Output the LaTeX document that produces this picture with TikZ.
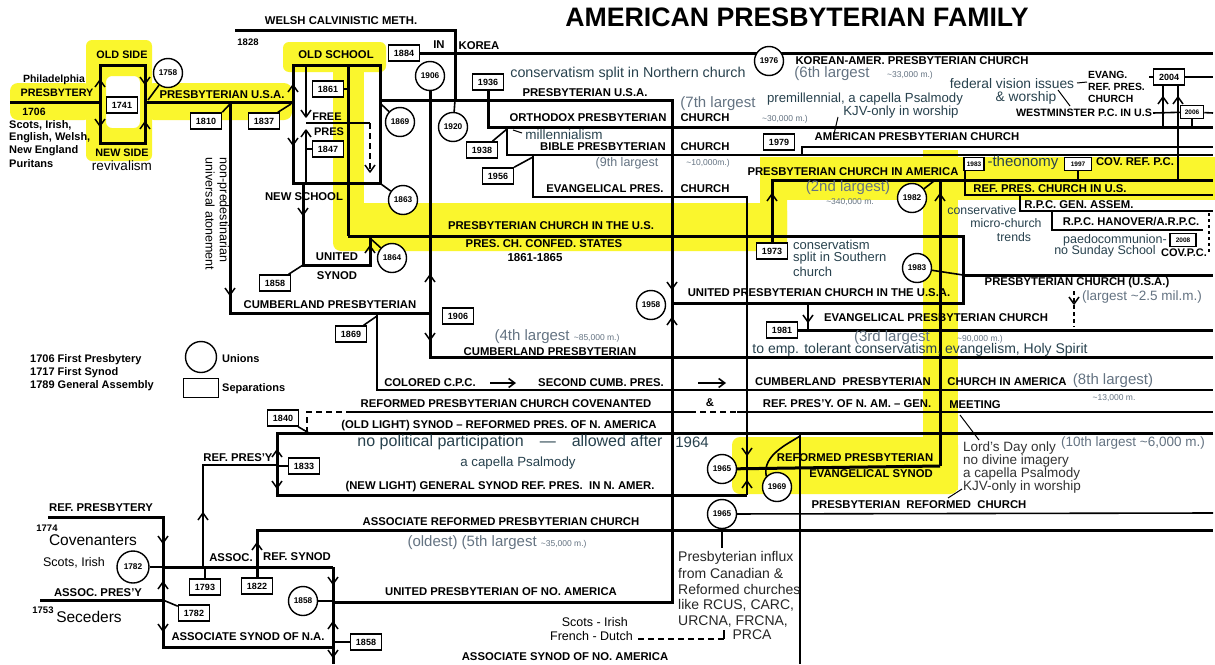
\documentclass[tikz,border=0pt]{standalone}
\usepackage{fontspec}
\setmainfont{Liberation Sans}
\usetikzlibrary{arrows.meta}
\definecolor{hl}{RGB}{250,246,45}
\definecolor{annot}{RGB}{40,66,78}
\definecolor{memc}{RGB}{100,115,130}
\pgfdeclarelayer{hlay}
\pgfdeclarelayer{llay}
\pgfsetlayers{hlay,llay,main}
\newcommand{\tld}{\textasciitilde}
\newcommand{\fs}[1]{\fontsize{#1}{#1}\selectfont}
\begin{document}
\begin{tikzpicture}[x=1pt,y=-1pt,
 tk/.style={line width=3pt},
 tn/.style={line width=1.6pt},
 th/.style={line width=1pt},
 lab/.style={font={\bfseries\fs{11.3}}, inner sep=0pt},
 slab/.style={font={\bfseries\fs{9.5}}, inner sep=0pt},
 ann/.style={text=annot, font={\fs{14}}, inner sep=0pt},
 gbig/.style={text=memc, font={\fs{15}}, inner sep=0pt},
 gsml/.style={text=memc, font={\fs{8.5}}, inner sep=0pt},
 rtx/.style={font={\fs{12.5}}, inner sep=0pt},
 yb/.style={draw, line width=1.5pt, fill=white, inner sep=1pt, minimum width=31pt, minimum height=16pt, font={\bfseries\fs{9}}},
 ybs/.style={yb, minimum width=20pt, minimum height=13pt, font={\bfseries\fs{6.5}}},
 yc/.style={draw, circle, line width=1.4pt, fill=white, inner sep=0pt, minimum size=29pt, font={\bfseries\fs{8.3}}},
 chevu/.pic={\draw[line width=1.5pt, line join=round] (-5,7) -- (0,0) -- (5,7);},
 chevd/.pic={\draw[line width=1.5pt, line join=round] (-5,-7) -- (0,0) -- (5,-7);},
 dsh/.style={dash pattern=on 6pt off 4pt},
]
\useasboundingbox (0,0) rectangle (1215,664);
% ---------- highlights ----------
\begin{pgfonlayer}{hlay}
\fill[white] (0,0) rectangle (1215,664);
\fill[hl, rounded corners=8pt] (10,83) rectangle (92,120);
\fill[hl, rounded corners=8pt] (146,83) rectangle (292,120);
\fill[hl, rounded corners=6pt, even odd rule] (86,40) rectangle (152,161) (106,76) rectangle (140,128);
\fill[hl, rounded corners=6pt] (283,42) rectangle (386,72);
\fill[hl] (333,60) rectangle (364,240);
\fill[hl, rounded corners=8pt] (333,203) rectangle (787,251);
\fill[hl, rounded corners=6pt] (760,157) rectangle (787,240);
\fill[hl] (760,157) rectangle (1215,200);
\fill[hl] (923,150) rectangle (958,490);
\fill[hl, rounded corners=8pt] (732,437) rectangle (958,494);
\end{pgfonlayer}
% ---------- boxes (separations) ----------
\node[yb] (b1741) at (122,105) {1741};
\node[yb] (b1810) at (206,121) {1810};
\node[yb] (b1837) at (264,121) {1837};
\node[yb] (b1884) at (404,53) {1884};
\node[yb] (b1861) at (328,89) {1861};
\node[yb] (b1847) at (328,149) {1847};
\node[yb] (b1858a) at (275,283) {1858};
\node[yb] (b1936) at (488,82) {1936};
\node[yb] (b1938) at (482,150) {1938};
\node[yb] (b1956) at (498,176) {1956};
\node[yb] (b1979) at (779,142) {1979};
\node[yb] (b1973) at (772,251) {1973};
\node[ybs] (b1983) at (974,164) {1983};
\node[ybs, minimum width=27pt] (b1997) at (1078,164) {1997};
\node[yb] (b2004) at (1169,77) {2004};
\node[ybs, minimum width=23pt] (b2006) at (1192,112) {2006};
\node[ybs, minimum width=26pt] (b2008) at (1183,240) {2008};
\node[yb] (b1981) at (782,330) {1981};
\node[yb] (b1906) at (458,316) {1906};
\node[yb] (b1869) at (351,334) {1869};
\node[yb] (b1840) at (283,418) {1840};
\node[yb] (b1833) at (304,466) {1833};
\node[yb] (b1793) at (205,587) {1793};
\node[yb] (b1822) at (257,586) {1822};
\node[yb] (b1782) at (194,613) {1782};
\node[yb] (b1858b) at (366,642) {1858};
\node[yb, minimum width=35pt, minimum height=19pt] (lgb) at (201,388) {};
% ---------- circles (unions) ----------
\node[yc] (c1758) at (168,73) {1758};
\node[yc] (c1906) at (430,76) {1906};
\node[yc] (c1920) at (453,127) {1920};
\node[yc] (c1869) at (400,122) {1869};
\node[yc] (c1863) at (403,200) {1863};
\node[yc] (c1864) at (392,258) {1864};
\node[yc] (c1976) at (769,61) {1976};
\node[yc] (c1958) at (651,305) {1958};
\node[yc] (c1982) at (912,198) {1982};
\node[yc] (c1983) at (917,268) {1983};
\node[yc] (c1965a) at (722,469) {1965};
\node[yc] (c1969) at (777,487) {1969};
\node[yc] (c1965b) at (722,514) {1965};
\node[yc, minimum size=32pt] (c1782) at (133,567) {1782};
\node[yc] (c1858) at (303,601) {1858};
\node[yc, minimum size=31pt] (lgc) at (201,357) {};
% ---------- lines ----------
\begin{pgfonlayer}{llay}
% colonial
\draw[tk] (10,102) -- (100,102);
\draw[tk] (100,65) rectangle (145,143);
\draw[tk] (145,102) -- (293,102);
\draw[tn] (c1758) -- (148,100);
\pic at (100,80) {chevu}; \pic at (100,126) {chevd};
\pic at (145,84) {chevd}; \pic at (145,122) {chevu};
\draw[tn] (b1810.north east) -- (230,104);
\draw[tn] (b1837) -- (291,104);
% old school / new school
\draw[tk] (293,65) rectangle (380,183);
\pic at (293,85) {chevu}; \pic at (293,145) {chevd};
\draw[tk] (348,65) -- (348,236);
\draw[tn] (b1861) -- (348,89);
\draw[tn] (306,65) -- (306,117); \pic at (306,117) {chevd};
\draw[tn] (306,183) -- (306,130); \pic at (306,130) {chevu};
\draw[tn] (b1847) -- (306,149);
\draw[tn] (306,123) -- (370,123);
\draw[tn, dsh] (370,123) -- (370,172); \pic at (370,172) {chevd};
\draw[tn] (c1869) -- (381,104);
\draw[tn] (c1863) -- (381,184);
\draw[tk] (303,183) -- (303,265) -- (370,265) -- (370,236);
\pic at (303,215) {chevd}; \pic at (370,246) {chevu};
\draw[tn] (b1858a) -- (303,265);
\draw[tn] (c1864) -- (371,239);
% welsh, korea
\draw[tk] (235,30) -- (455,30) -- (455,100);
\draw[tn] (455,100) -- (c1920);
\draw[tk] (b1884) -- (1213,53);
% PCUSA main
\draw[tk] (380,100) -- (672,100) -- (672,602) -- (333,602);
\pic at (672,289) {chevd}; \pic at (672,318) {chevu};
% cumberland
\draw[tk] (230,102) -- (230,313) -- (430,313);
\pic at (230,295) {chevd};
\draw[tk] (c1906) -- (430,357) -- (1213,357);
\pic at (430,275) {chevu}; \pic at (430,340) {chevd};
\draw[tn] (b1869) -- (377,316);
\draw[tn] (377,313) -- (377,390) -- (1213,390);
\draw[tn, -{Straight Barb[length=6pt,width=9pt]}] (490,383) -- (516,383);
\draw[tn, -{Straight Barb[length=6pt,width=9pt]}] (698,383) -- (726,383);
% OPC, BPC, EPC
\draw[tk] (b1936) -- (488,127) -- (1213,127);
\draw[th] (513,130) -- (522,133);
\draw[tn] (b1938) -- (507,129);
\draw[tn] (507,127) -- (507,155) -- (1213,155);
\draw[tn] (b1956) -- (533,157);
\draw[tn] (533,155) -- (533,197) -- (747,197) -- (747,495);
\pic at (747,455) {chevd}; \pic at (747,481) {chevu};
\draw[tn] (802,155) -- (802,147) -- (1213,147);
\draw[th] (838,117) -- (834,134);
% top right
\draw[th] (1077,83) -- (1087,82);
\draw[th] (1058,90) -- (1070,106);
\draw[tn] (1149,77) -- (b2004);
\draw[tn] (b2004) -- (1213,77);
\draw[tn] (1163,127) -- (1163,85); \pic at (1163,97) {chevu};
\draw[tn] (1178,180) -- (1178,85); \pic at (1178,97) {chevu};
\draw[tn] (1153,113) -- (b2006);
\draw[tn] (b2006) -- (1213,113);
\draw[tn] (b2006) -- (1192,127);
% PCUS, PCA
\draw[tk] (348,236) -- (963,236) -- (963,303) -- (672,303);
\draw[tk] (963,275) -- (1213,275);
\draw[tn] (c1983) -- (963,275);
\draw[tk] (b1973) -- (772,180) -- (1213,180);
\pic at (772,194) {chevu};
\draw[tk] (940,466) -- (940,180);
\pic at (940,194) {chevu};
\draw[tn] (c1982) -- (934,181);
\draw[tn] (965,171) -- (965,195) -- (1213,195);
\draw[tn] (b1997) -- (1078,180);
\draw[tn] (1020,195) -- (1020,211) -- (1213,211);
\draw[tn] (1052,211) -- (1052,230) -- (1203,230);
\draw[tn, dash pattern=on 3pt off 3pt] (1209,213) -- (1209,252);
% UPCUSA / EPC 1981
\draw[tn] (808,303) -- (808,330); \pic at (808,322) {chevd};
\draw[tk] (b1981) -- (1213,330);
\draw[tn, dash pattern=on 4pt off 3pt] (1074,291) -- (1074,327); \pic at (1074,304) {chevd};
% reformed presbyterian
\draw[tn, dsh] (307,433) -- (307,412) -- (350,412);
\draw[tn] (350,412) -- (690,412);
\draw[tn, dsh] (690,412) -- (737,412);
\draw[tn] (737,412) -- (1213,412);
\draw[tn] (b1840) -- (309,433);
\draw[tk] (1213,433) -- (277,433) -- (277,495) -- (747,495);
\pic at (277,450) {chevu}; \pic at (277,488) {chevd};
\draw[tn] (b1833) -- (277,466);
\draw[tn] (203,567) -- (203,465) -- (277,465);
\pic at (203,513) {chevu};
\draw[tk] (c1965a) -- (940,466);
\draw[tn] (c1969.north west) .. controls (762,455) and (788,444) .. (800,436);
\draw[tn] (800,433) -- (800,664);
\draw[tn] (c1965b) -- (1213,513);
\draw[tn] (c1965b) -- (722,548);
\draw[th] (960,415) -- (979,440);
\draw[th] (962,489) -- (948,498);
% associate reformed
\draw[tk] (b1822) -- (257,530) -- (1213,530);
\pic at (257,543) {chevu};
\draw[tn] (c1782) -- (163,567);
\draw[tk] (163,567) -- (333,567);
\draw[tn] (b1793) -- (205,567);
\draw[tk] (48,517) -- (163,517) -- (163,647) -- (333,647);
\pic at (163,543) {chevd}; \pic at (163,582) {chevu}; \pic at (163,631) {chevd};
\draw[tk] (40,600) -- (163,600);
\draw[tn] (b1782) -- (163,600);
\draw[tk] (333,567) -- (333,664);
\pic at (333,584) {chevd}; \pic at (333,622) {chevu}; \pic at (333,657) {chevd};
\draw[tn] (c1858) -- (333,601);
\draw[tn] (b1858b) -- (333,642);
\draw[tn, dsh] (638,639) -- (724,639);
\draw[tn] (724,639) -- (724,630);
\end{pgfonlayer}
% ---------- texts ----------
\node[font={\bfseries\fs{26.7}}, inner sep=0pt] (title) at (797,17) {AMERICAN PRESBYTERIAN FAMILY};
\node[lab] (tWelsh) at (341,21) {WELSH CALVINISTIC METH.};
\node[slab] (t1828) at (248,42) {1828};
\node[lab] (tIN) at (439,45) {IN};
\node[lab] (tKorea) at (479,46) {KOREA};
\node[font={\bfseries\fs{10.5}}, inner sep=0pt] (tPhil) at (54,80) {Philadelphia};
\node[lab, font={\bfseries\fs{10.8}}] (tPby) at (57,93) {PRESBYTERY};
\node[slab, font={\bfseries\fs{10.5}}] (t1706) at (34,112) {1706};
\node[font={\bfseries\fs{11}}, inner sep=0pt, anchor=west] (tSc1) at (9,125) {Scots, Irish,};
\node[font={\bfseries\fs{11}}, inner sep=0pt, anchor=west] (tSc2) at (9,138) {English, Welsh,};
\node[font={\bfseries\fs{11}}, inner sep=0pt, anchor=west] (tSc3) at (9,151) {New England};
\node[font={\bfseries\fs{11}}, inner sep=0pt, anchor=west] (tSc4) at (9,164) {Puritans};
\node[lab, font={\bfseries\fs{10.8}}] (tOS) at (122,55) {OLD SIDE};
\node[lab, font={\bfseries\fs{10.8}}] (tNS) at (122,153) {NEW SIDE};
\node[rtx, font={\fs{13.5}}] (trev) at (122,166) {revivalism};
\node[lab] (tPUSA1) at (222,95) {PRESBYTERIAN U.S.A.};
\node[rtx, rotate=-90] (trot1) at (223,210) {non-predestinarian};
\node[rtx, rotate=-90] (trot2) at (210,214) {universal atonement};
\node[lab] (tOSc) at (336,55) {OLD SCHOOL};
\node[slab, font={\bfseries\fs{11}}] (tFree) at (327,117) {FREE};
\node[slab, font={\bfseries\fs{11}}] (tPres) at (329,132) {PRES};
\node[lab] (tNSc) at (304,197) {NEW SCHOOL};
\node[lab] (tUnited) at (337,257) {UNITED};
\node[lab] (tSynod) at (337,276) {SYNOD};
\node[lab] (tCumb1) at (330,305) {CUMBERLAND PRESBYTERIAN};
\node[lab] (tPUSA2) at (585,93) {PRESBYTERIAN U.S.A.};
\node[ann, font={\fs{14.3}}] (tConsN) at (628,74) {conservatism split in Northern church};
\node[lab] (tOPC1) at (588,118) {ORTHODOX PRESBYTERIAN};
\node[lab] (tOPC2) at (705,118) {CHURCH};
\node[gbig] (t7a) at (718,104) {(7th largest};
\node[gsml] (t7b) at (785,119) {\tld30,000 m.)};
\node[ann, font={\fs{13.5}}] (tMill) at (564,135) {millennialism};
\node[lab] (tBPC1) at (603,147) {BIBLE PRESBYTERIAN};
\node[lab] (tBPC2) at (705,147) {CHURCH};
\node[gbig, font={\fs{12.5}}] (t9a) at (627,163) {(9th largest};
\node[gsml] (t9b) at (708,163) {\tld10,000m.)};
\node[lab] (tEPC1) at (605,189) {EVANGELICAL PRES.};
\node[lab] (tEPC2) at (705,189) {CHURCH};
\node[lab] (tKA) at (912,61) {KOREAN-AMER. PRESBYTERIAN CHURCH};
\node[gbig] (t6a) at (832,74) {(6th largest};
\node[gsml] (t6b) at (910,75) {\tld33,000 m.)};
\node[ann, font={\fs{13.2}}] (tPremil) at (865,99) {premillennial, a capella Psalmody};
\node[ann, font={\fs{13.2}}] (tKJV1) at (901,112) {KJV-only in worship};
\node[lab] (tAPC) at (917,137) {AMERICAN PRESBYTERIAN CHURCH};
\node[ann, font={\fs{13.8}}] (tFed) at (1012,84) {federal vision issues};
\node[ann, font={\fs{13.8}}] (tWor) at (1026,98) {\& worship};
\node[slab, font={\bfseries\fs{10.4}}, anchor=west] (tER1) at (1088,75) {EVANG.};
\node[slab, font={\bfseries\fs{10.4}}, anchor=west] (tER2) at (1088,87) {REF. PRES.};
\node[slab, font={\bfseries\fs{10.4}}, anchor=west] (tER3) at (1088,99) {CHURCH};
\node[lab, font={\bfseries\fs{10.7}}] (tWPC) at (1084,113) {WESTMINSTER P.C. IN U.S};
\node[lab] (tPCA) at (853,172) {PRESBYTERIAN CHURCH IN AMERICA};
\node[gbig] (t2a) at (848,188) {(2nd largest)};
\node[gsml] (t2b) at (850,202) {\tld340,000 m.};
\node[ann, font={\fs{15}}] (tTheo) at (1023,163) {-theonomy};
\node[lab] (tCRPC) at (1135,162) {COV. REF. P.C.};
\node[lab] (tRPCUS) at (1050,189) {REF. PRES. CHURCH IN U.S.};
\node[lab] (tGA) at (1079,205) {R.P.C. GEN. ASSEM.};
\node[lab, font={\bfseries\fs{11.2}}] (tHan) at (1131,222) {R.P.C. HANOVER/A.R.P.C.};
\node[ann, font={\fs{12.3}}] (tCv1) at (982,210) {conservative};
\node[ann, font={\fs{12.3}}] (tCv2) at (1006,223) {micro-church};
\node[ann, font={\fs{12.3}}] (tCv3) at (1014,237) {trends};
\node[ann, font={\fs{12.5}}] (tPaedo) at (1115,240) {paedocommunion-};
\node[ann, font={\fs{12.5}}] (tNoSS) at (1105,251) {no Sunday School};
\node[slab, font={\bfseries\fs{11}}] (tCovPC) at (1184,253) {COV.P.C.};
\node[lab] (tPCUS) at (551,226) {PRESBYTERIAN CHURCH IN THE U.S.};
\node[lab] (tCSA) at (544,244) {PRES. CH. CONFED. STATES};
\node[slab, font={\bfseries\fs{11.5}}] (t1861) at (535,258) {1861-1865};
\node[ann, font={\fs{13}}, anchor=west] (tCS1) at (793,245) {conservatism};
\node[ann, font={\fs{13}}, anchor=west] (tCS2) at (793,258) {split in Southern};
\node[ann, font={\fs{13}}, anchor=west] (tCS3) at (793,272) {church};
\node[lab] (tUPC) at (819,293) {UNITED PRESBYTERIAN CHURCH IN THE U.S.A.};
\node[lab] (tPCUSA) at (1077,283) {PRESBYTERIAN CHURCH (U.S.A.)};
\node[gbig, font={\fs{13.5}}] (tLarg) at (1142,297) {(largest {\fs{9}}\tld2.5 mil.m.)};
\node[lab] (tEPCh) at (936,318) {EVANGELICAL PRESBYTERIAN CHURCH};
\node[gbig] (t3a) at (892,338) {(3rd largest};
\node[gsml] (t3b) at (980,339) {\tld90,000 m.)};
\node[ann] (tEmp) at (920,350) {to emp. tolerant conservatism, evangelism, Holy Spirit};
\node[gbig] (t4) at (557,337) {(4th largest {\fs{8.5}\tld85,000 m.)}};
\node[lab] (tCumb2) at (550,352) {CUMBERLAND PRESBYTERIAN};
\node[lab] (tCol) at (430,383) {COLORED C.P.C.};
\node[lab] (tSec2) at (601,383) {SECOND CUMB. PRES.};
\node[lab] (tCPCA1) at (843,382) {CUMBERLAND\ \ PRESBYTERIAN};
\node[lab] (tCPCA2) at (1007,382) {CHURCH IN AMERICA};
\node[gbig] (t8a) at (1113,381) {(8th largest)};
\node[gsml] (t8b) at (1114,398) {\tld13,000 m.};
\node[lab] (tRPCC) at (506,404) {REFORMED PRESBYTERIAN CHURCH COVENANTED};
\node[lab] (tAmp) at (710,403) {\&};
\node[lab] (tRPNA) at (847,404) {REF. PRES'Y. OF N. AM. – GEN.};
\node[lab] (tMeet) at (975,405) {MEETING};
\node[lab] (tOL) at (499,426) {(OLD LIGHT) SYNOD – REFORMED PRES. OF N. AMERICA};
\node[ann, font={\fs{16}}] (tNoPol) at (510,442) {no political participation\quad—\quad allowed after};
\node[ann, font={\fs{15}}] (t1964) at (692,442) {1964};
\node[ann, font={\fs{13.3}}] (tAcap) at (518,463) {a capella Psalmody};
\node[lab] (tNL) at (500,487) {(NEW LIGHT) GENERAL SYNOD REF. PRES.\ \ IN N. AMER.};
\node[lab] (tRPCES1) at (855,458) {REFORMED PRESBYTERIAN};
\node[lab] (tRPCES2) at (871,474) {EVANGELICAL SYNOD};
\node[lab] (tPRC) at (919,505) {PRESBYTERIAN\ \ REFORMED\ \ CHURCH};
\node[ann, text=black!80, font={\fs{13.5}}, anchor=west] (tLD1) at (963,448) {Lord's Day only};
\node[ann, text=black!80, font={\fs{13.5}}, anchor=west] (tLD2) at (963,461) {no divine imagery};
\node[ann, text=black!80, font={\fs{13.5}}, anchor=west] (tLD3) at (963,474) {a capella Psalmody};
\node[ann, text=black!80, font={\fs{13.5}}, anchor=west] (tLD4) at (963,487) {KJV-only in worship};
\node[gbig, font={\fs{13.5}}] (t10) at (1133,443) {(10th largest {\fs{8.5}}\tld6,000 m.)};
\node[lab] (tARP) at (501,522) {ASSOCIATE REFORMED PRESBYTERIAN CHURCH};
\node[gbig] (t5) at (497,543) {(oldest) (5th largest {\fs{8.5}\tld35,000 m.)}};
\node[lab] (tUPNA) at (501,592) {UNITED PRESBYTERIAN OF NO. AMERICA};
\node[ann, text=black!85, font={\fs{14}}, anchor=west] (tIf1) at (678,558) {Presbyterian influx};
\node[ann, text=black!85, font={\fs{14}}, anchor=west] (tIf2) at (678,573) {from Canadian \&};
\node[ann, text=black!85, font={\fs{14}}, anchor=west] (tIf3) at (678,589) {Reformed churches};
\node[ann, text=black!85, font={\fs{14}}, anchor=west] (tIf4) at (678,605) {like RCUS, CARC,};
\node[ann, text=black!85, font={\fs{14}}, anchor=west] (tIf5) at (678,621) {URCNA, FRCNA,};
\node[ann, text=black!85, font={\fs{14}}] (tIf6) at (752,635) {PRCA};
\node[rtx, anchor=east] (tSI) at (628,622) {Scots - Irish};
\node[rtx, anchor=east] (tFD) at (633,636) {French - Dutch};
\node[lab] (tASNA2) at (565,657) {ASSOCIATE SYNOD OF NO. AMERICA};
\node[lab] (tRPy) at (238,458) {REF. PRES'Y};
\node[lab] (tAssoc) at (231,558) {ASSOC.};
\node[lab] (tRS) at (297,557) {REF. SYNOD};
\node[lab] (tRPby) at (101,508) {REF. PRESBYTERY};
\node[slab] (t1774) at (47,528) {1774};
\node[rtx, font={\fs{15.5}}] (tCov) at (93,540) {Covenanters};
\node[rtx, font={\fs{12.5}}] (tSI2) at (74,563) {Scots, Irish};
\node[lab] (tAP) at (98,593) {ASSOC. PRES'Y};
\node[slab] (t1753) at (43,610) {1753};
\node[rtx, font={\fs{15.5}}] (tSeced) at (89,617) {Seceders};
\node[lab] (tASN) at (248,637) {ASSOCIATE SYNOD OF N.A.};
\node[slab, font={\bfseries\fs{11}}, anchor=west] (tL1) at (30,360) {1706 First Presbytery};
\node[slab, font={\bfseries\fs{11}}, anchor=west] (tL2) at (30,373) {1717 First Synod};
\node[slab, font={\bfseries\fs{11}}, anchor=west] (tL3) at (30,386) {1789 General Assembly};
\node[slab, font={\bfseries\fs{11}}, anchor=west] (tUn) at (222,359) {Unions};
\node[slab, font={\bfseries\fs{11}}, anchor=west] (tSep) at (222,389) {Separations};
\end{tikzpicture}
\end{document}
